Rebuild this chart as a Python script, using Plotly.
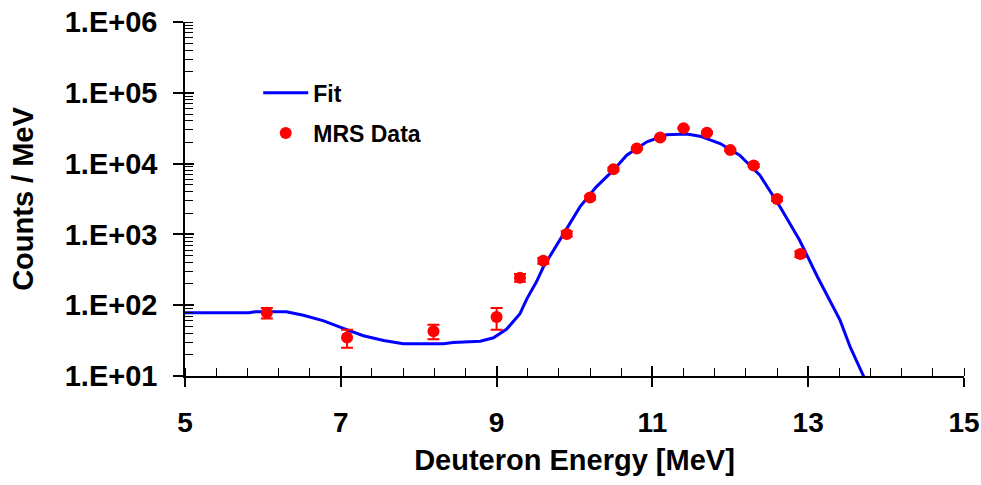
import plotly.graph_objects as go

# ---- data ----
fit_energy = [5.0, 5.82, 5.9, 6.3, 6.52, 6.78, 6.99, 7.29, 7.55, 7.80, 8.32, 8.44,
              8.79, 8.96, 9.13, 9.30, 9.39, 9.51, 9.60, 9.81, 10.07, 10.28, 10.50,
              10.67, 10.93, 11.18, 11.44, 11.61, 11.87, 12.12, 12.38, 12.64, 12.89,
              13.12, 13.41, 13.54, 13.75]
fit_counts = [78, 78, 81, 81, 72, 60, 49, 37, 31.8, 28.5, 28.5, 29.8,
              31, 34.7, 46, 76, 124, 212, 346, 826, 2445, 4690, 8070,
              13150, 20300, 25500, 26100, 24400, 19200, 13100, 6860, 2440, 826,
              250, 61, 25.5, 8]

mrs_energy = [6.05, 7.08, 8.19, 9.0, 9.3, 9.6, 9.9, 10.2, 10.5, 10.8, 11.1, 11.4,
              11.7, 12.0, 12.3, 12.6, 12.9]
mrs_counts = [78, 35, 43, 68, 245, 426, 1014, 3310, 8330, 16300, 23400, 31700,
              27200, 15500, 9400, 3170, 528]
mrs_error = [13, 10, 10, 23, 30, 40, 90, 200, 400, 600, 800, 1000,
             900, 600, 450, 200, 50]

x_tickvals = [5, 7, 9, 11, 13, 15]
y_tickvals = [1e1, 1e2, 1e3, 1e4, 1e5, 1e6]
y_ticktext = ["1.E+01", "1.E+02", "1.E+03", "1.E+04", "1.E+05", "1.E+06"]

FONT = "Liberation Sans, Arial, sans-serif"

fig = go.Figure()
fig.add_trace(go.Scatter(
    x=fit_energy, y=fit_counts, mode="lines", name="Fit",
    line=dict(color="#0000FF", width=3), legend="legend"))
fig.add_trace(go.Scatter(
    x=mrs_energy, y=mrs_counts, mode="markers", name="MRS Data",
    marker=dict(color="#FF0000", size=12),
    error_y=dict(type="data", array=mrs_error, color="#FF0000", thickness=2, width=6),
    legend="legend2"))
# helper trace for overlay axes (inner halves of major ticks)
fig.add_trace(go.Scatter(x=[None], y=[None], xaxis="x2", yaxis="y2",
                         showlegend=False, hoverinfo="skip"))

axis_common = dict(showgrid=False, zeroline=False, linecolor="black", linewidth=1.5,
                   tickcolor="black", tickwidth=1.5, automargin=False)

legend_font = dict(family=FONT, size=23, weight="bold", color="black")

fig.update_layout(
    width=981, height=485,
    margin=dict(l=185, r=17, t=22, b=109),
    plot_bgcolor="white", paper_bgcolor="white",
    font=dict(family=FONT, color="black"),
    xaxis=dict(
        range=[5, 15], tickvals=x_tickvals, ticks="outside", ticklen=9,
        showline=True, ticklabelstandoff=12,
        tickfont=dict(family=FONT, size=28, weight="bold", color="black"),
        title=dict(text="Deuteron Energy [MeV]", standoff=12,
                   font=dict(family=FONT, size=29, weight="bold", color="black")),
        minor=dict(dtick=0.4, tick0=5, ticks="inside", ticklen=8,
                   tickcolor="black", tickwidth=1.2),
        **axis_common),
    yaxis=dict(
        type="log", range=[1, 6], tickvals=y_tickvals, ticktext=y_ticktext,
        ticks="outside", ticklen=10, showline=True, ticklabelstandoff=10,
        tickfont=dict(family=FONT, size=29, weight="bold", color="black"),
        title=dict(text="Counts / MeV", standoff=23,
                   font=dict(family=FONT, size=29, weight="bold", color="black")),
        minor=dict(dtick="D1", ticks="inside", ticklen=8,
                   tickcolor="black", tickwidth=1.2),
        **axis_common),
    xaxis2=dict(range=[5, 15], overlaying="x", anchor="y2", side="bottom",
                tickvals=x_tickvals, ticks="inside", ticklen=10,
                showticklabels=False, showline=False, showgrid=False,
                zeroline=False, tickcolor="black", tickwidth=1.5, automargin=False),
    yaxis2=dict(type="log", range=[1, 6], overlaying="y", anchor="x2", side="left",
                tickvals=y_tickvals, ticks="inside", ticklen=9,
                showticklabels=False, showline=False, showgrid=False,
                zeroline=False, tickcolor="black", tickwidth=1.5, automargin=False),
    legend=dict(x=0.094, y=0.80, xanchor="left", yanchor="middle", itemwidth=45,
                bgcolor="rgba(0,0,0,0)", borderwidth=0, font=legend_font),
    legend2=dict(x=0.094, y=0.686, xanchor="left", yanchor="middle", itemwidth=45,
                 bgcolor="rgba(0,0,0,0)", borderwidth=0, font=legend_font),
)

fig.write_html("out.html")
